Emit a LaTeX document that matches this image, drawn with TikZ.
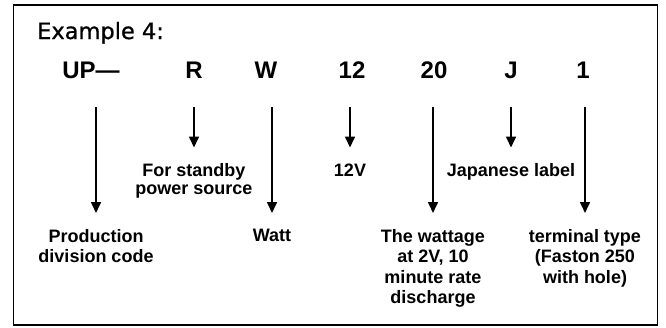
\documentclass[tikz,border=0pt]{standalone}
\usepackage{fontspec}
\setmainfont{Liberation Sans}
\newfontfamily\titlefont[FakeBold=0.9]{DejaVu Sans}
\usetikzlibrary{arrows.meta}

\begin{document}
\begin{tikzpicture}[x=1pt, y=-1pt,
	code/.style={font=\bfseries\fontsize{24}{26}\selectfont, inner sep=0pt, anchor=base},
	lbl/.style={font=\bfseries\fontsize{18}{20.5}\selectfont, inner sep=0pt, anchor=north, align=center},
	tightlbl/.style={lbl, font=\bfseries\fontsize{18}{17.5}\selectfont},
	arr/.style={line width=1.6pt, -{Triangle[width=10pt,length=11pt]}, shorten <=29pt, shorten >=16pt}]
			%%%%% START %%%%%
			
			\useasboundingbox (0, 0) rectangle (666, 327);
			\draw[line width=1.8pt] (13.5, 5) rectangle (657.5, 325);
			
			\node[anchor=base west, inner sep=0pt, font=\titlefont\fontsize{22.5}{24}\selectfont] (title) at (37, 39) {Example 4:};
			
			\node[code] (up) at (91, 78) {UP—};
			\node[code] (r) at (194, 78) {R};
			\node[code] (w) at (266, 78) {W};
			\node[code] (twelve) at (352, 78) {12};
			\node[code] (twenty) at (434, 78) {20};
			\node[code] (j) at (511, 78) {J};
			\node[code] (one) at (583, 78) {1};
			
			\node[tightlbl] (standby) at (194, 163.5) {For standby\\power source};
			\node[tightlbl] (volt) at (350, 163.5) {12V};
			\node[tightlbl] (jlabel) at (511, 163.5) {Japanese label};
			
			\node[lbl] (prod) at (96, 229) {Production\\division code};
			\node[lbl] (watt) at (272, 229) {Watt};
			\node[lbl] (wattage) at (433, 229) {The wattage\\at 2V, 10\\minute rate\\discharge};
			\node[lbl] (terminal) at (585, 229) {terminal type\\(Faston 250\\with hole)};
			
			\draw[arr] (prod.north |- up.south) -- (prod.north);
			\draw[arr] (standby.north |- r.south) -- (standby.north);
			\draw[arr] (watt.north |- w.south) -- (watt.north);
			\draw[arr] (volt.north |- twelve.south) -- (volt.north);
			\draw[arr] (wattage.north |- twenty.south) -- (wattage.north);
			\draw[arr] (jlabel.north |- j.south) -- (jlabel.north);
			\draw[arr] (terminal.north |- one.south) -- (terminal.north);
			
			%%%%% END %%%%%
\end{tikzpicture}
\end{document}
